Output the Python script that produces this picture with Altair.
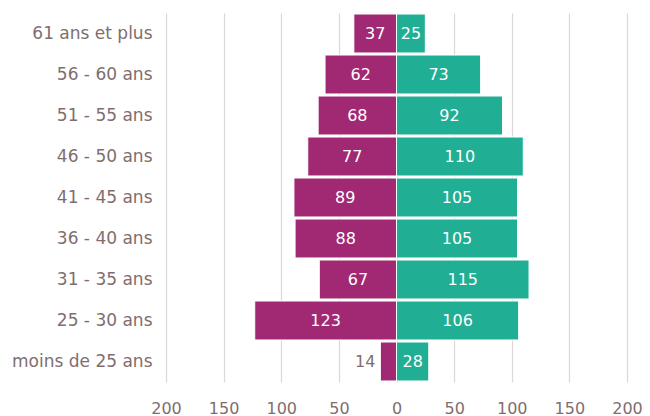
import altair as alt
import pandas as pd

categories = ["61 ans et plus", "56 - 60 ans", "51 - 55 ans", "46 - 50 ans", "41 - 45 ans",
              "36 - 40 ans", "31 - 35 ans", "25 - 30 ans", "moins de 25 ans"]
left_values = [37, 62, 68, 77, 89, 88, 67, 123, 14]
right_values = [25, 73, 92, 110, 105, 105, 115, 106, 28]
x_ticks = [-200, -150, -100, -50, 0, 50, 100, 150, 200]

rows = []
for c, l, r in zip(categories, left_values, right_values):
    rows.append({"cat": c, "side": "left", "value": l, "signed": -l})
    rows.append({"cat": c, "side": "right", "value": r, "signed": r})
df = pd.DataFrame(rows)
df["mid"] = df["signed"] / 2

FONT = "DejaVu Sans"
TXT = "#7F6E6E"
GRID = "#DDD8D5"

x_scale = alt.Scale(domain=[-200, 200], nice=False)
y_enc = alt.Y("cat:N", sort=categories,
              scale=alt.Scale(paddingInner=0.05, range=[1, 370]),
              axis=alt.Axis(title=None, ticks=False, domain=False, labelPadding=14,
                            labelFont=FONT, labelFontSize=17, labelColor=TXT))

bars = alt.Chart(df).mark_bar(stroke="white", strokeWidth=1).encode(
    x=alt.X("signed:Q", scale=x_scale,
            axis=alt.Axis(title=None, values=x_ticks, labelExpr="abs(datum.value)",
                          grid=True, gridColor=GRID, gridWidth=1.2, domain=False,
                          ticks=False, labelPadding=17, labelFlush=False,
                          labelFont=FONT, labelFontSize=16, labelColor=TXT)),
    y=y_enc,
    color=alt.Color("side:N", scale=alt.Scale(domain=["left", "right"],
                                               range=["#A12873", "#20AF94"]), legend=None),
)

inside = alt.Chart(df).transform_filter("datum.value >= 20").mark_text(
    font=FONT, fontSize=16, color="white", align="center", baseline="middle").encode(
    x=alt.X("mid:Q", scale=x_scale), y=alt.Y("cat:N", sort=categories), text="value:Q")

outside_left = alt.Chart(df).transform_filter("datum.value < 20 && datum.side == 'left'").mark_text(
    font=FONT, fontSize=16, color=TXT, align="right", baseline="middle", dx=-5).encode(
    x=alt.X("signed:Q", scale=x_scale), y=alt.Y("cat:N", sort=categories), text="value:Q")

outside_right = alt.Chart(df).transform_filter("datum.value < 20 && datum.side == 'right'").mark_text(
    font=FONT, fontSize=16, color=TXT, align="left", baseline="middle", dx=5).encode(
    x=alt.X("signed:Q", scale=x_scale), y=alt.Y("cat:N", sort=categories), text="value:Q")

chart = alt.layer(bars, inside, outside_left, outside_right).properties(
    width=461, height=371,
    autosize=alt.AutoSizeParams(type="none"),
    padding={"left": 158, "top": 4, "right": 15, "bottom": 36},
).configure_view(stroke=None)

chart.save("out.html", embed_options={"renderer": "svg", "actions": False})
